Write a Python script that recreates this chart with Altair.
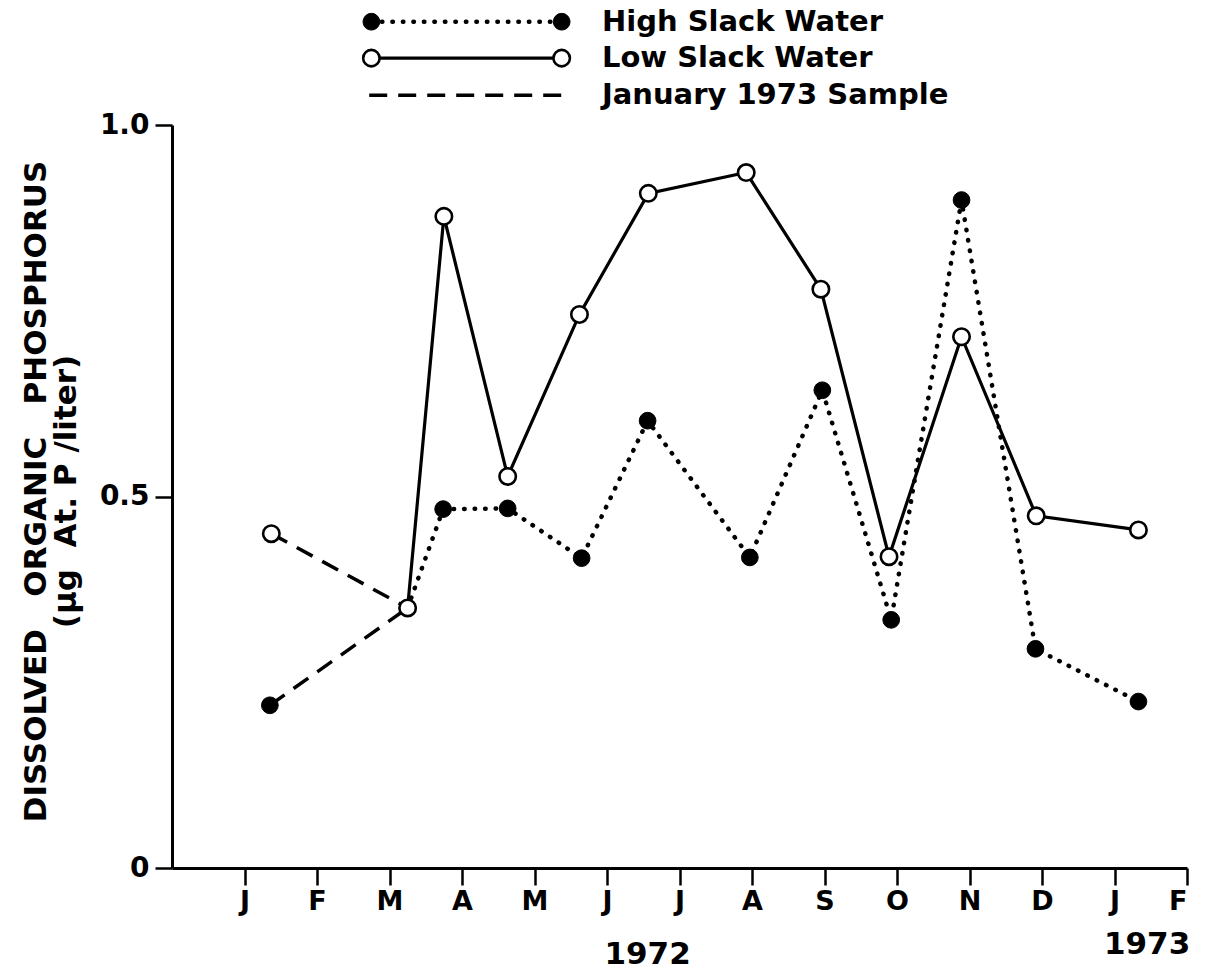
import altair as alt
import pandas as pd

FONT = "DejaVu Sans"
GAP = "\u00a0" * 3

# ---- data (x in months, 0 = January 1972) ----
month_ticks = list(range(14))
month_letters = ["J", "F", "M", "A", "M", "J", "J", "A", "S", "O", "N", "D", "J", "F"]

low_x = [2.25, 2.75, 3.63, 4.62, 5.57, 6.92, 7.95, 8.89, 9.89, 10.92, 12.33]
low_y = [0.350, 0.877, 0.527, 0.745, 0.908, 0.936, 0.779, 0.419, 0.715, 0.474, 0.455]

high_x = [2.25, 2.74, 3.63, 4.65, 5.56, 6.97, 7.97, 8.92, 9.89, 10.91, 12.33]
high_y = [0.350, 0.483, 0.484, 0.417, 0.602, 0.418, 0.643, 0.334, 0.899, 0.295, 0.224]

# January 1973 sample replotted at January (two dashed segments)
jan_seg = ["low", "low", "high", "high"]
jan_x = [0.37, 2.25, 0.35, 2.25]
jan_y = [0.450, 0.350, 0.219, 0.350]

jan_open_x = [0.37]
jan_open_y = [0.450]
jan_fill_x = [0.35]
jan_fill_y = [0.219]

legend_labels = ["High Slack Water", "Low Slack Water", "January 1973 Sample"]
legend_row_y = [1.139, 1.090, 1.040]
legend_x_start = [1.75, 1.75, 1.72]
legend_x_end = [4.375, 4.375, 4.42]
legend_text_x = [4.93, 4.93, 4.93]

year_labels = ["1972", "1973"]
year_x = [5.56, 12.45]
year_y = [-0.117, -0.104]

y_title = ["DISSOLVED" + GAP + "ORGANIC" + GAP + "PHOSPHORUS", "(\u03bcg\u00a0\u00a0At.\u00a0P\u00a0/liter)"]

# ---- tables ----
low_df = pd.DataFrame({"m": low_x, "v": low_y})
high_df = pd.DataFrame({"m": high_x, "v": high_y})
jan_df = pd.DataFrame({"seg": jan_seg, "m": jan_x, "v": jan_y})
open_df = pd.DataFrame({"m": low_x + jan_open_x, "v": low_y + jan_open_y})
fill_df = pd.DataFrame({"m": high_x + jan_fill_x, "v": high_y + jan_fill_y})

leg_rows = []
for i, lab in enumerate(legend_labels):
    leg_rows.append({"label": lab, "m": legend_x_start[i], "v": legend_row_y[i], "end": "a"})
    leg_rows.append({"label": lab, "m": legend_x_end[i], "v": legend_row_y[i], "end": "b"})
leg_df = pd.DataFrame(leg_rows)
leg_text_df = pd.DataFrame({"label": legend_labels, "m": legend_text_x, "v": legend_row_y})
year_df = pd.DataFrame({"label": year_labels, "m": year_x, "v": year_y})

x_scale = alt.Scale(domain=[-1, 13], nice=False, zero=False)
y_scale = alt.Scale(domain=[0, 1], nice=False, zero=False)

letters_js = "[" + ",".join("'%s'" % s for s in month_letters) + "]"

x_axis = alt.Axis(
    values=month_ticks,
    labelExpr=letters_js + "[datum.value]",
    title=None,
    grid=False,
    tickSize=17,
    tickWidth=2.5,
    tickColor="black",
    domainColor="black",
    domainWidth=3,
    labelFont=FONT,
    labelFontSize=27,
    labelFontWeight="bold",
    labelColor="black",
    labelPadding=3,
)
y_axis = alt.Axis(
    values=[0, 0.5, 1],
    labelExpr="datum.value === 0 ? '0' : format(datum.value, '.1f')",
    title=y_title,
    titleFont=FONT,
    titleFontSize=31,
    titleFontWeight="bold",
    titleColor="black",
    titleAngle=270,
    titleAlign="center",
    titleBaseline="middle",
    titleLineHeight=30,
    titleX=-136,
    titleY=366,
    grid=False,
    tickSize=17,
    tickWidth=2.5,
    tickColor="black",
    domainColor="black",
    domainWidth=3,
    labelFont=FONT,
    labelFontSize=28,
    labelFontWeight="bold",
    labelColor="black",
    labelPadding=6,
)

X = alt.X("m:Q", scale=x_scale, axis=x_axis)
Y = alt.Y("v:Q", scale=y_scale, axis=y_axis)

jan_line = alt.Chart(jan_df).mark_line(
    color="black", strokeWidth=3.5, strokeDash=[18, 11]
).encode(x=X, y=Y, detail="seg:N")

high_line = alt.Chart(high_df).mark_line(
    color="black", strokeWidth=4.5, strokeDash=[0.5, 10], strokeCap="round"
).encode(x=X, y=Y)

low_line = alt.Chart(low_df).mark_line(color="black", strokeWidth=3.2).encode(x=X, y=Y)

fill_pts = alt.Chart(fill_df).mark_point(
    shape="circle", filled=True, fill="black", stroke="black", strokeWidth=1, size=280, opacity=1
).encode(x=X, y=Y)

open_pts = alt.Chart(open_df).mark_point(
    shape="circle", filled=True, fill="white", stroke="black", strokeWidth=2.6, size=270, opacity=1
).encode(x=X, y=Y)

# legend
leg_high_line = alt.Chart(leg_df).transform_filter(
    alt.datum.label == legend_labels[0]
).mark_line(color="black", strokeWidth=4.5, strokeDash=[0.5, 10], strokeCap="round").encode(x=X, y=Y)
leg_low_line = alt.Chart(leg_df).transform_filter(
    alt.datum.label == legend_labels[1]
).mark_line(color="black", strokeWidth=3.2).encode(x=X, y=Y)
leg_jan_line = alt.Chart(leg_df).transform_filter(
    alt.datum.label == legend_labels[2]
).mark_line(color="black", strokeWidth=3.5, strokeDash=[18, 11]).encode(x=X, y=Y)
leg_fill_pts = alt.Chart(leg_df).transform_filter(
    alt.datum.label == legend_labels[0]
).mark_point(shape="circle", filled=True, fill="black", stroke="black", strokeWidth=1, size=280, opacity=1).encode(x=X, y=Y)
leg_open_pts = alt.Chart(leg_df).transform_filter(
    alt.datum.label == legend_labels[1]
).mark_point(shape="circle", filled=True, fill="white", stroke="black", strokeWidth=2.6, size=270, opacity=1).encode(x=X, y=Y)
leg_text = alt.Chart(leg_text_df).mark_text(
    align="left", baseline="middle", font=FONT, fontSize=29, fontWeight="bold", color="black"
).encode(x=X, y=Y, text="label:N")

year_text = alt.Chart(year_df).mark_text(
    align="center", baseline="middle", font=FONT, fontSize=31, fontWeight="bold", color="black"
).encode(x=X, y=Y, text="label:N")

chart = alt.layer(
    jan_line, high_line, low_line, fill_pts, open_pts,
    leg_high_line, leg_low_line, leg_jan_line, leg_fill_pts, leg_open_pts, leg_text,
    year_text,
).properties(
    width=1015,
    height=743,
    autosize=alt.AutoSizeParams(type="none"),
    padding={"left": 172, "top": 125, "right": 31, "bottom": 104},
    background="white",
).configure_view(stroke=None)

chart.save("out.html", embed_options={"renderer": "svg", "actions": False})
